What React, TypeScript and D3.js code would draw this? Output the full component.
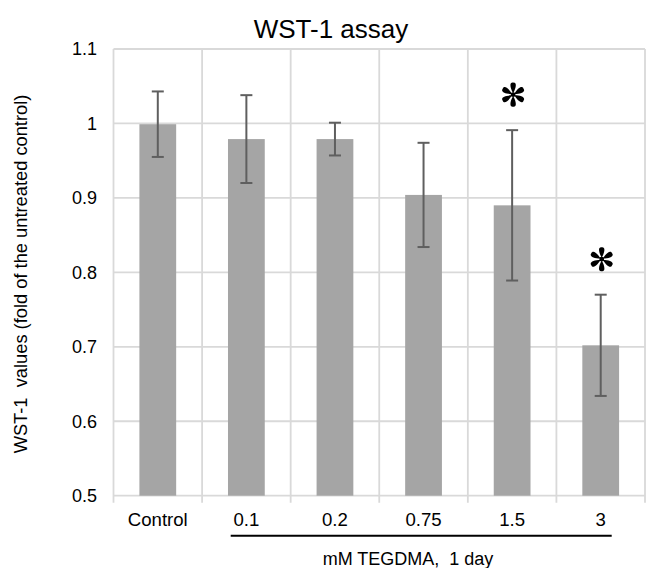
import React from "react";
import * as d3 from "d3";

const categories = ["Control", "0.1", "0.2", "0.75", "1.5", "3"];
const values = [0.999, 0.979, 0.979, 0.904, 0.89, 0.702];
const errors = [0.044, 0.059, 0.022, 0.07, 0.101, 0.068];
const significant = [false, false, false, false, true, true];
const yTicks = [0.5, 0.6, 0.7, 0.8, 0.9, 1.0, 1.1];
const yTickLabels = ["0.5", "0.6", "0.7", "0.8", "0.9", "1", "1.1"];

const W = 647;
const H = 568;
const left = 113.5;
const right = 645;
const top = 49;
const bottom = 495.7;
const FONT = "'Liberation Sans', Arial, Helvetica, sans-serif";

function asteriskPath(r: number): string {
  // six teardrop petals
  const petals: string[] = [];
  for (let i = 0; i < 6; i++) {
    const a = (i * Math.PI) / 3 - Math.PI / 2;
    const ca = Math.cos(a), sa = Math.sin(a);
    const px = -sa, py = ca;
    const inner = r * 0.12;
    const outer = r;
    const w = r * 0.26;
    const mid = r * 0.62;
    const p = (d: number, o: number) => [d * ca + o * px, d * sa + o * py];
    const p0 = p(inner, 0);
    const c1 = p(mid, -w * 1.1);
    const c2 = p(outer * 1.05, -w * 1.2);
    const tip = p(outer, 0);
    const c3 = p(outer * 1.05, w * 1.2);
    const c4 = p(mid, w * 1.1);
    petals.push(
      `M${p0[0]},${p0[1]}C${c1[0]},${c1[1]} ${c2[0]},${c2[1]} ${tip[0]},${tip[1]}C${c3[0]},${c3[1]} ${c4[0]},${c4[1]} ${p0[0]},${p0[1]}Z`
    );
  }
  return petals.join("") + `M${r * 0.2},0A${r * 0.2},${r * 0.2} 0 1,1 ${-r * 0.2},0A${r * 0.2},${r * 0.2} 0 1,1 ${r * 0.2},0Z`;
}

export default function App() {
  const x = d3.scaleBand<string>().domain(categories).range([left, right]).paddingInner(0).paddingOuter(0);
  const y = d3.scaleLinear().domain([0.5, 1.1]).range([bottom, top]);
  const bw = x.bandwidth();
  const barW = bw * 0.415;
  const capW = 12;
  const gridColor = "#d9d9d9";
  const boundaries = categories.map((c) => x(c) as number).concat([right]);

  return (
    <svg width={W} height={H} style={{ position: "absolute", left: 0, top: 0, background: "#fff" }} fontFamily={FONT}>
      <rect x={0} y={0} width={W} height={H} fill="#fff" />
      {/* title */}
      <text x={331} y={38} textAnchor="middle" fontSize={26} fill="#000">WST-1 assay</text>

      {/* horizontal gridlines */}
      {yTicks.map((t) => (
        <line key={"h" + t} x1={left} x2={right} y1={y(t)} y2={y(t)} stroke={gridColor} strokeWidth={1.8} />
      ))}
      {/* vertical gridlines with tick marks */}
      {boundaries.map((b, i) => (
        <line key={"v" + i} x1={b} x2={b} y1={top} y2={bottom + 7} stroke={gridColor} strokeWidth={1.8} />
      ))}

      {/* y tick labels */}
      {yTicks.map((t, i) => (
        <text key={"yl" + t} x={97} y={y(t)} dy="0.35em" textAnchor="end" fontSize={18} fill="#000">
          {yTickLabels[i]}
        </text>
      ))}

      {/* bars */}
      {categories.map((c, i) => (
        <rect
          key={"b" + c}
          x={(x(c) as number) + bw / 2 - barW / 2}
          y={y(values[i])}
          width={barW}
          height={y(0.5) - y(values[i])}
          fill="#a5a5a5"
        />
      ))}

      {/* error bars */}
      {categories.map((c, i) => {
        const cx = (x(c) as number) + bw / 2;
        const y1 = y(values[i] + errors[i]);
        const y2 = y(values[i] - errors[i]);
        return (
          <g key={"e" + c} stroke="#5f5f5f" strokeWidth={2}>
            <line x1={cx} x2={cx} y1={y1} y2={y2} />
            <line x1={cx - capW / 2} x2={cx + capW / 2} y1={y1} y2={y1} />
            <line x1={cx - capW / 2} x2={cx + capW / 2} y1={y2} y2={y2} />
          </g>
        );
      })}

      {/* significance asterisks */}
      {categories.map((c, i) =>
        significant[i] ? (
          <path
            key={"s" + c}
            d={asteriskPath(12)}
            transform={`translate(${(x(c) as number) + bw / 2 + 1},${y(values[i] + errors[i]) - 35.5})`}
            fill="#000"
          />
        ) : null
      )}

      {/* x tick labels */}
      {categories.map((c) => (
        <text key={"xl" + c} x={(x(c) as number) + bw / 2} y={526} textAnchor="middle" fontSize={18.6} fill="#000">
          {c}
        </text>
      ))}

      {/* group bracket line */}
      <line x1={230.7} x2={611.7} y1={535.7} y2={535.7} stroke="#000" strokeWidth={2} />
      <text x={408} y={565} textAnchor="middle" fontSize={18} fill="#000" style={{ whiteSpace: "pre" }}>
        {"mM TEGDMA,  1 day"}
      </text>

      {/* y axis title */}
      <text
        transform={`translate(27,274) rotate(-90)`}
        textAnchor="middle"
        fontSize={18.3}
        fill="#000"
        style={{ whiteSpace: "pre" }}
      >
        {"WST-1  values (fold of the untreated control)"}
      </text>
    </svg>
  );
}
